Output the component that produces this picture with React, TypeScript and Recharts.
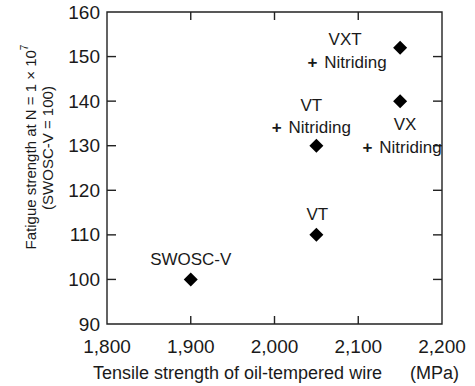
import React from 'react';
import { ScatterChart, Scatter, XAxis, YAxis, ReferenceArea, ReferenceLine } from 'recharts';

// material grades, tensile strength (MPa) and fatigue strength index
const materials = ['SWOSC-V', 'VT', 'VT + Nitriding', 'VX + Nitriding', 'VXT + Nitriding'];
const tensileStrength = [1900, 2050, 2050, 2150, 2150];
const fatigueStrength = [100, 110, 130, 140, 152];
const labelLines = [['SWOSC-V'], ['VT'], ['VT', '+ Nitriding'], ['VX', '+ Nitriding'], ['VXT', '+ Nitriding']];

const xTicks = [1800, 1900, 2000, 2100, 2200];
const yTicks = [90, 100, 110, 120, 130, 140, 150, 160];
const X_DOMAIN = [1800, 2200];
const Y_DOMAIN = [90, 160];

const data = materials.map((name, i) => ({
  name,
  x: tensileStrength[i],
  y: fatigueStrength[i],
  lines: labelLines[i],
}));

// label placement relative to the marker (px), per material
const labelOffsets: Record<string, { dx: number[]; dy: number[] }> = {
  'SWOSC-V': { dx: [0], dy: [-20] },
  VT: { dx: [1], dy: [-20] },
  'VT + Nitriding': { dx: [-5, -5], dy: [-40, -19] },
  'VX + Nitriding': { dx: [5, 2], dy: [23, 46] },
  'VXT + Nitriding': { dx: [-55, -53], dy: [-8, 14] },
};

const W = 475;
const H = 386;
const MARGIN = { top: 12, right: 33, bottom: 61, left: 106 };
const PLOT_LEFT = MARGIN.left + 1;
const PLOT_RIGHT = W - MARGIN.right;
const PLOT_TOP = MARGIN.top;
const PLOT_BOTTOM = H - MARGIN.bottom - 1;

const FONT = '"Liberation Sans", Arial, sans-serif';
const INK = '#1a1a1a';
const LINE = '#222';
const SW = 1.4;
const TICK_LEN = 8;

// inward tick length expressed in data units
const xTickLen = (TICK_LEN + 1) * (X_DOMAIN[1] - X_DOMAIN[0]) / (PLOT_RIGHT - PLOT_LEFT);
const yTickLen = TICK_LEN * (Y_DOMAIN[1] - Y_DOMAIN[0]) / (PLOT_BOTTOM - PLOT_TOP);

const tickText = { fontSize: 19, fill: INK, fontFamily: FONT };

function YTick({ y, payload }: any) {
  return (
    <text x={PLOT_LEFT - 7} y={y} textAnchor="end" dominantBaseline="central" {...tickText}>
      {payload.value}
    </text>
  );
}

function XTick({ x, payload }: any) {
  return (
    <text x={x} y={PLOT_BOTTOM + 22} textAnchor="middle" dominantBaseline="central" {...tickText}>
      {payload.value.toLocaleString('en-US')}
    </text>
  );
}

function Marker({ cx, cy, payload }: any) {
  const s = 7;
  const off = labelOffsets[payload.name];
  return (
    <g>
      <polygon points={`${cx},${cy - s} ${cx + s},${cy} ${cx},${cy + s} ${cx - s},${cy}`} fill="#000" />
      {payload.lines.map((line: string, i: number) => (
        <text
          key={i}
          x={cx + off.dx[i]}
          y={cy + off.dy[i]}
          textAnchor="middle"
          dominantBaseline="central"
          fontSize={17}
          fontFamily={FONT}
          fill={INK}
        >
          {line.startsWith('+') ? (
            <>
              <tspan fontWeight="bold">+</tspan>
              <tspan dx={2}>{line.slice(1)}</tspan>
            </>
          ) : (
            line
          )}
        </text>
      ))}
    </g>
  );
}

export default function App() {
  const innerX = xTicks.slice(1, -1);
  const innerY = yTicks.slice(1, -1);
  return (
    <div style={{ position: 'absolute', left: 0, top: 0, width: W, height: H }}>
      <svg
        width={W}
        height={H}
        style={{ position: 'absolute', left: 0, top: 0 }}
        fontFamily={FONT}
        fill={INK}
      >
        <text transform="translate(30,147) rotate(-90)" textAnchor="middle" dominantBaseline="central" fontSize={15}>
          Fatigue strength at N = 1 × 10
          <tspan fontSize={10} dy={-6}>7</tspan>
        </text>
        <text transform="translate(47,148) rotate(-90)" textAnchor="middle" dominantBaseline="central" fontSize={15}>
          (SWOSC-V = 100)
        </text>
        <text x={93} y={379} fontSize={18}>
          Tensile strength of oil-tempered wire
        </text>
        <text x={410} y={379} fontSize={18}>
          (MPa)
        </text>
      </svg>
      <div style={{ position: 'absolute', left: 0, top: 0 }}>
        <ScatterChart width={W} height={H} margin={MARGIN}>
          <XAxis
            type="number"
            dataKey="x"
            domain={X_DOMAIN}
            ticks={xTicks}
            height={1}
            tickSize={0}
            tickMargin={0}
            axisLine={false}
            tickLine={false}
            tick={<XTick />}
            interval={0}
          />
          <YAxis
            type="number"
            dataKey="y"
            domain={Y_DOMAIN}
            ticks={yTicks}
            width={1}
            tickSize={0}
            tickMargin={0}
            axisLine={false}
            tickLine={false}
            tick={<YTick />}
            interval={0}
          />
          <ReferenceArea
            x1={X_DOMAIN[0]}
            x2={X_DOMAIN[1]}
            y1={Y_DOMAIN[0]}
            y2={Y_DOMAIN[1]}
            fill="none"
            stroke={LINE}
            strokeWidth={SW}
            fillOpacity={0}
          />
          {innerX.map((v) => (
            <ReferenceLine
              key={`xb${v}`}
              segment={[{ x: v, y: Y_DOMAIN[0] }, { x: v, y: Y_DOMAIN[0] + yTickLen }]}
              stroke={LINE}
              strokeWidth={SW}
              ifOverflow="visible"
            />
          ))}
          {innerX.map((v) => (
            <ReferenceLine
              key={`xt${v}`}
              segment={[{ x: v, y: Y_DOMAIN[1] }, { x: v, y: Y_DOMAIN[1] - yTickLen }]}
              stroke={LINE}
              strokeWidth={SW}
              ifOverflow="visible"
            />
          ))}
          {innerY.map((v) => (
            <ReferenceLine
              key={`yl${v}`}
              segment={[{ x: X_DOMAIN[0], y: v }, { x: X_DOMAIN[0] + xTickLen, y: v }]}
              stroke={LINE}
              strokeWidth={SW}
              ifOverflow="visible"
            />
          ))}
          {innerY.map((v) => (
            <ReferenceLine
              key={`yr${v}`}
              segment={[{ x: X_DOMAIN[1], y: v }, { x: X_DOMAIN[1] - xTickLen, y: v }]}
              stroke={LINE}
              strokeWidth={SW}
              ifOverflow="visible"
            />
          ))}
          <Scatter data={data} shape={<Marker />} isAnimationActive={false} />
        </ScatterChart>
      </div>
    </div>
  );
}
